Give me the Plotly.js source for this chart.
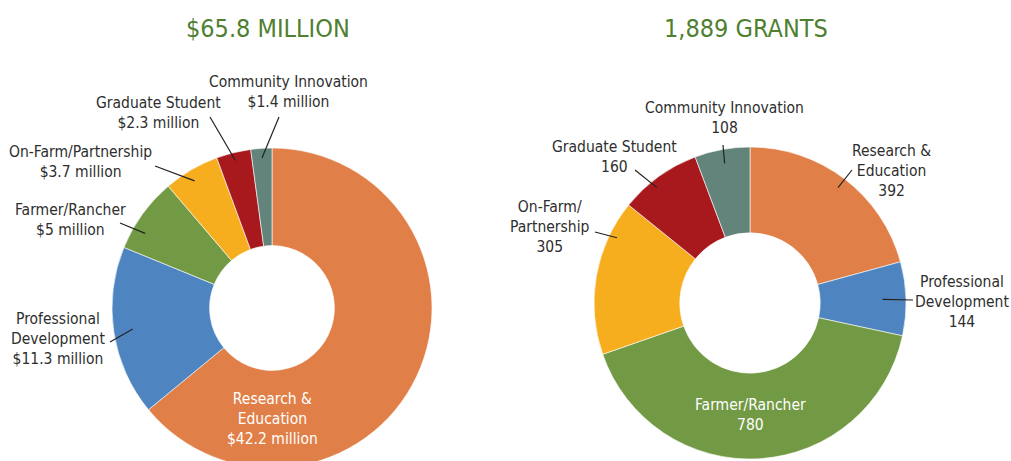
<!DOCTYPE html>
<html>
<head>
<meta charset="utf-8">
<script src="https://cdn.plot.ly/plotly-3.0.1.min.js"></script>
<style>
html,body{margin:0;padding:0;overflow:hidden;background:#fff;}
#chart{width:1011px;height:480px;}
</style>
</head>
<body>
<div id="chart"></div>
<script>
// ---- data ----
const categories = ["Research & Education","Professional Development","Farmer/Rancher","On-Farm/Partnership","Graduate Student","Community Innovation"];
const fundingMillions = [42.2, 11.3, 5, 3.7, 2.3, 1.4];
const grantCounts = [392, 144, 780, 305, 160, 108];
const fundingLabels = ["Research &<br>Education<br>$42.2 million","Professional<br>Development<br>$11.3 million","Farmer/Rancher<br>$5 million","On-Farm/Partnership<br>$3.7 million","Graduate Student<br>$2.3 million","Community Innovation<br>$1.4 million"];
const grantLabels = ["Research &<br>Education<br>392","Professional<br>Development<br>144","Farmer/Rancher<br>780","On-Farm/<br>Partnership<br>305","Graduate Student<br>160","Community Innovation<br>108"];
const titles = ["$65.8 MILLION","1,889 GRANTS"];

// ---- style ----
const colors = ["#E07F48","#4E85C0","#729944","#F7AE1E","#A8191E","#62847A"];
const W = 1011, H = 480;
const FONT = '"Liberation Sans Narrow","DejaVu Sans Condensed","Arial Narrow",sans-serif';
const titleColor = "#4f8030";
const LABEL_SIZE = 15.5;
const pies = [
  {cx:272, cy:308, R:160, hole:0.39},
  {cx:750, cy:303, R:156, hole:0.45}
];
// label layout (pixels): text centre, leader start, tip radius fraction, angle fraction within slice
const leftLayout = [
  {tx:272, ty:419, inside:true},
  {tx:58, ty:339, sx:110, sy:342, rf:0.88, af:0.5},
  {tx:70, ty:220, sx:120, sy:223, rf:0.92, af:0.3},
  {tx:80, ty:162, sx:155, sy:166, rf:0.93, af:0.45},
  {tx:158, ty:113, sx:210, sy:117, rf:0.95, af:0.5},
  {tx:288, ty:92, sx:279, sy:117, rf:0.94, af:0.5}
];
const rightLayout = [
  {tx:891, ty:171, sx:852, sy:170, rf:0.93, af:0.5},
  {tx:962, ty:302, sx:913, sy:300, rf:0.85, af:0.5},
  {tx:750, ty:415, inside:true},
  {tx:550, ty:227, sx:595, sy:232, rf:0.95, af:0.78},
  {tx:614, ty:157, sx:635, sy:170, rf:0.95, af:0.4},
  {tx:724, ty:118, sx:723, sy:145, rf:0.91, af:0.5}
];

const px = x => x / W;
const py = y => 1 - y / H;

function tip(vals, i, p, rf, af) {
  const total = vals.reduce((a,b)=>a+b,0);
  let cum = 0; for (let k=0;k<i;k++) cum += vals[k];
  const a = (cum + af*vals[i]) / total * 2 * Math.PI;
  return [p.cx + rf*p.R*Math.sin(a), p.cy - rf*p.R*Math.cos(a)];
}

const traces = [fundingMillions, grantCounts].map((vals, j) => {
  const p = pies[j];
  return {
    type: "pie",
    values: vals,
    labels: categories,
    sort: false,
    direction: "clockwise",
    rotation: 0,
    hole: p.hole,
    textinfo: "none",
    hoverinfo: "label+value",
    showlegend: false,
    marker: {colors: colors, line: {color: "rgba(255,255,255,0.6)", width: 1}},
    domain: {x: [px(p.cx - p.R), px(p.cx + p.R)], y: [py(p.cy + p.R), py(p.cy - p.R)]}
  };
});

const annotations = [];
const shapes = [];
[[fundingMillions, fundingLabels, leftLayout], [grantCounts, grantLabels, rightLayout]].forEach(([vals, labs, lay], j) => {
  const p = pies[j];
  lay.forEach((L, i) => {
    annotations.push({
      xref: "paper", yref: "paper", x: px(L.tx), y: py(L.ty),
      xanchor: "center", yanchor: "middle", showarrow: false,
      text: labs[i], align: "center",
      font: {family: FONT, size: LABEL_SIZE, color: L.inside ? "#ffffff" : "#2e2e2e"}
    });
    if (!L.inside) {
      const t = tip(vals, i, p, L.rf, L.af);
      shapes.push({type: "line", xref: "paper", yref: "paper",
        x0: px(L.sx), y0: py(L.sy), x1: px(t[0]), y1: py(t[1]),
        line: {color: "#222222", width: 1.2}});
    }
  });
});
titles.forEach((t, j) => {
  annotations.push({xref:"paper", yref:"paper", x: px(pies[j].cx - 4), y: py(28),
    xanchor:"center", yanchor:"middle", showarrow:false, text:t,
    font:{family: FONT, size: 25, color: titleColor}});
});

Plotly.newPlot("chart", traces, {
  width: W, height: H,
  margin: {l:0, r:0, t:0, b:0},
  paper_bgcolor: "#ffffff",
  showlegend: false,
  annotations: annotations,
  shapes: shapes
}, {displayModeBar: false, staticPlot: true});
</script>
</body>
</html>
